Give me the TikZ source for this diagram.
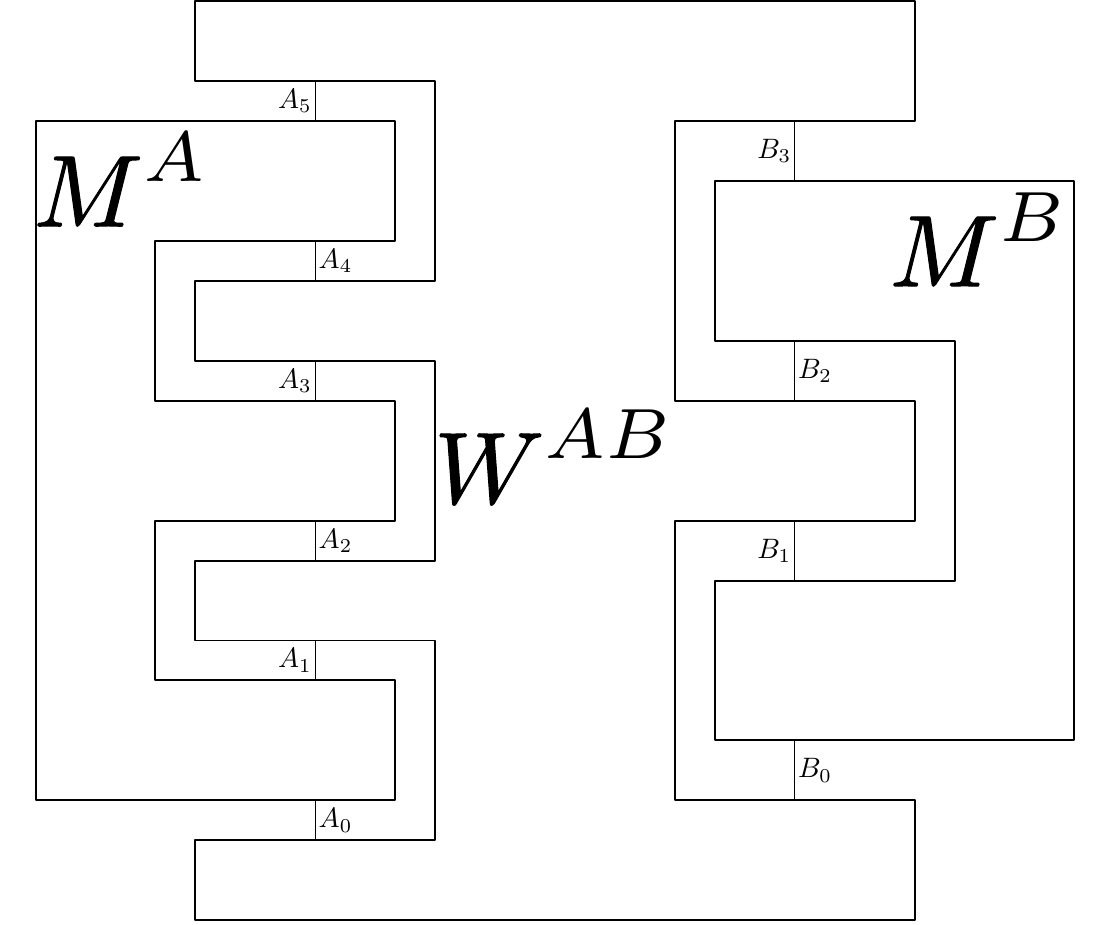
\documentclass[tikz,border=0pt]{standalone}
\usepackage{amsmath}
\usepackage{amssymb}
\usepackage{tikz}
% heavier main letter of the large labels
\newcommand{\heavy}[1]{{\special{pdf:literal direct 2 Tr 0.1 w}#1\special{pdf:literal direct 0 Tr}}}

\begin{document}
\begin{tikzpicture}[x=0.5cm,y=0.5cm]
    \tikzstyle{box} = [line width=0.7pt,line join=round]
    \tikzstyle{wire} = [line width=0.45pt]
    \tikzstyle{port} = [inner sep=1pt]
    \tikzstyle{biglabel} = [scale=3.62,inner sep=0pt]
    \useasboundingbox (-0.89,-0.1) rectangle (26.89,23.03);
    % the comb W
    \draw[box] (4,21) -- (4,23) -- (22,23) -- (22,20) -- (16,20) -- (16,13) -- (22,13)
        -- (22,10) -- (16,10) -- (16,3) -- (22,3) -- (22,0) -- (4,0) -- (4,2) -- (10,2)
        -- (10,7) -- (4,7) -- (4,9) -- (10,9) -- (10,14) -- (4,14) -- (4,16) -- (10,16)
        -- (10,21) -- cycle;
    % Alice
    \draw[box] (0,20) -- (9,20) -- (9,17) -- (3,17) -- (3,13) -- (9,13) -- (9,10)
        -- (3,10) -- (3,6) -- (9,6) -- (9,3) -- (0,3) -- cycle;
    % Bob
    \draw[box] (17,18.5) -- (26,18.5) -- (26,4.5) -- (17,4.5) -- (17,8.5) -- (23,8.5)
        -- (23,14.5) -- (17,14.5) -- cycle;
    \foreach \y/\s/\i in {21/left/5, 17/right/4, 14/left/3, 10/right/2, 7/left/1, 3/right/0}
        \draw[wire] (7,\y) -- ++(0,-1) node[port,midway,\s] (a\i) {$A_{\i}$};
    \foreach \y/\s/\i in {20/left/3, 14.5/right/2, 10/left/1, 4.5/right/0}
        \draw[wire] (19,\y) -- ++(0,-1.5) node[port,midway,\s] (b\i) {$B_{\i}$};
    \node[biglabel] (ma) at (2.15,18.53) {$\heavy{M}^A$};
    \node[biglabel] (mb) at (23.62,17.03) {$\heavy{M}^B$};
    \node[biglabel] (wab) at (13.0,11.6) {$\heavy{W}^{AB}$};
\end{tikzpicture}
\end{document}
